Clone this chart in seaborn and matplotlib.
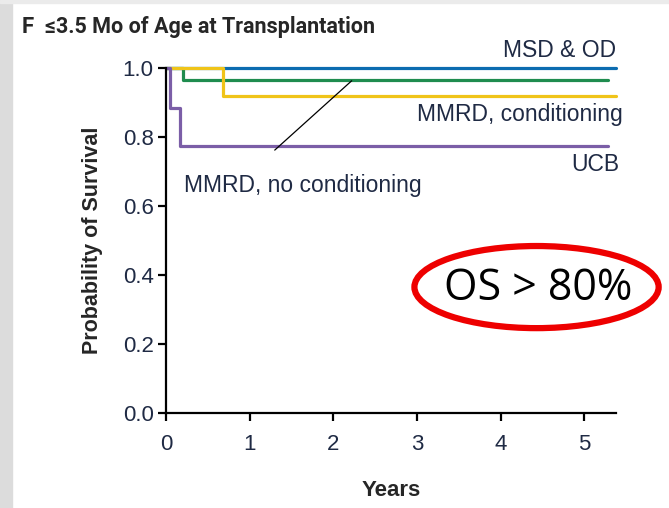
import numpy as np
import pandas as pd
import matplotlib
matplotlib.use('Agg')
import matplotlib.pyplot as plt
from matplotlib.patches import Ellipse, Rectangle
import seaborn as sns

# Kaplan-Meier step data
msd_years = [0.0, 5.38]
msd_surv = [1.0, 1.0]
mmrd_nc_years = [0.0, 0.2, 5.29]
mmrd_nc_surv = [1.0, 0.965, 0.965]
mmrd_c_years = [0.0, 0.68, 5.38]
mmrd_c_surv = [1.0, 0.92, 0.92]
ucb_years = [0.0, 0.05, 0.17, 5.29]
ucb_surv = [1.0, 0.885, 0.775, 0.775]

groups = ['MSD & OD', 'MMRD, no conditioning', 'MMRD, conditioning', 'UCB']
colors = ['#0c6cb0', '#1f8c4f', '#f0c419', '#7b5ea7']

frames = []
for name, xs, ys in zip(groups,
                        [msd_years, mmrd_nc_years, mmrd_c_years, ucb_years],
                        [msd_surv, mmrd_nc_surv, mmrd_c_surv, ucb_surv]):
    frames.append(pd.DataFrame({'Years': xs, 'Survival': ys, 'Group': name}))
df = pd.concat(frames, ignore_index=True)

sns.set_style('white')
plt.rcParams['font.family'] = ['Liberation Sans', 'DejaVu Sans']

fig = plt.figure(figsize=(6.69, 5.08), dpi=100)
# gray slide border
fig.patches.append(Rectangle((0, 0), 12 / 669, 1, transform=fig.transFigure,
                             color='#dcdcdc', zorder=0))
fig.patches.append(Rectangle((0, 1 - 3 / 508), 1, 3 / 508, transform=fig.transFigure,
                             color='#ebebeb', zorder=0))

ax = fig.add_axes([166 / 669, 1 - 413 / 508, 450 / 669, 345 / 508])
ax.patch.set_alpha(0)

sns.lineplot(data=df, x='Years', y='Survival', hue='Group', palette=colors,
             hue_order=groups, drawstyle='steps-post', linewidth=2.3,
             legend=False, ax=ax, estimator=None, sort=False)
for line in ax.get_lines():
    line.set_clip_on(False)

ax.set_xlim(0, 5.38)
ax.set_ylim(0, 1.0)
ax.set_xticks([0, 1, 2, 3, 4, 5])
ax.set_yticks([0.0, 0.2, 0.4, 0.6, 0.8, 1.0])
ax.set_yticklabels(['0.0', '0.2', '0.4', '0.6', '0.8', '1.0'])
for s in ['top', 'right']:
    ax.spines[s].set_visible(False)
for s in ['left', 'bottom']:
    ax.spines[s].set_color('black')
    ax.spines[s].set_linewidth(1.6)
ax.tick_params(axis='both', length=6, width=1.6, color='black',
               labelsize=16, labelcolor='#1f2a44', left=True, bottom=True)
ax.tick_params(axis='y', pad=3)
ax.tick_params(axis='x', pad=9)
ax.set_xlabel('Years', fontsize=16, fontweight='bold', labelpad=18)
ax.set_ylabel('Probability of Survival', fontsize=15.5, fontweight='bold', labelpad=14)

# curve labels
lab = dict(fontsize=16.5, color='#1f2a44', va='center')
ax.text(5.38, 1.05, 'MSD & OD', ha='right', **lab)
ax.text(5.46, 0.865, 'MMRD, conditioning', ha='right', **lab)
ax.text(5.42, 0.72, 'UCB', ha='right', **lab)
ax.text(0.22, 0.658, 'MMRD, no conditioning', ha='left', **lab)
ax.plot([1.30, 2.22], [0.762, 0.963], color='black', linewidth=0.9)

# highlight ellipse
ax.add_patch(Ellipse((4.43, 0.365), 2.92, 0.238, fill=False, edgecolor='#ee0000',
                     linewidth=4.5, clip_on=False))
ax.text(4.45, 0.36, 'OS > 80%', ha='center', va='center', fontsize=31,
        family=['Open Sans', 'DejaVu Sans'], color='black')

fig.text(22 / 669, 1 - 27 / 508, 'F', fontsize=16, fontweight='bold', va='center',
         family=['Roboto', 'DejaVu Sans'])
fig.text(45 / 669, 1 - 27 / 508, '≤3.5 Mo of Age at Transplantation', fontsize=15.5,
         fontweight='bold', va='center', family=['Roboto', 'DejaVu Sans'])

fig.savefig('out.png', dpi=100)
